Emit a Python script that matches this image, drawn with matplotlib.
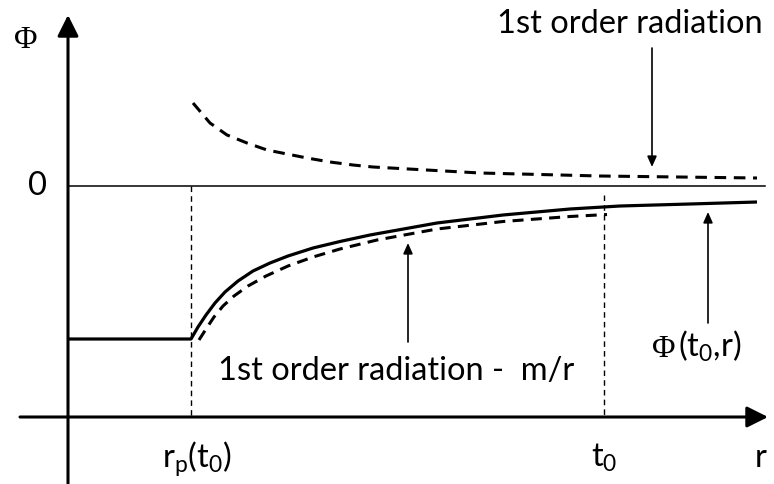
import matplotlib.pyplot as plt

plt.rcParams['font.family'] = ['Lato', 'DejaVu Sans']
plt.rcParams['mathtext.fontset'] = 'custom'
plt.rcParams['mathtext.rm'] = 'Lato'
plt.rcParams['mathtext.default'] = 'regular'

# -- Potential Phi(t0, r): flat inside r_p, then rising towards 0 --
r_solid = [0.0, 1.23, 1.30, 1.38, 1.47, 1.57, 1.70, 1.85, 2.02, 2.20, 2.45,
           2.72, 3.02, 3.69, 4.35, 5.02, 5.52, 6.22, 6.89]
phi_solid = [-1.53, -1.53, -1.41, -1.29, -1.17, -1.06, -0.95, -0.85, -0.77,
             -0.70, -0.62, -0.555, -0.49, -0.37, -0.29, -0.23, -0.20, -0.18, -0.16]

# -- 1st order radiation - m/r (below the solid curve, up to t0) --
r_low = [1.31, 1.38, 1.46, 1.55, 1.66, 1.80, 1.98, 2.20, 2.45, 2.72, 3.09,
         3.69, 4.35, 5.02, 5.39]
phi_low = [-1.54, -1.43, -1.31, -1.20, -1.10, -1.00, -0.90, -0.80, -0.71,
           -0.63, -0.54, -0.43, -0.355, -0.305, -0.285]

# -- 1st order radiation (above zero) --
r_up = [1.25, 1.42, 1.59, 1.79, 1.99, 2.19, 2.39, 2.62, 2.85, 3.05, 4.12, 5.32, 6.89]
phi_up = [0.83, 0.63, 0.51, 0.43, 0.36, 0.32, 0.28, 0.24, 0.21, 0.19, 0.13, 0.10, 0.08]

r_p = 1.23
t_0 = 5.36
r_axis = -2.31   # height of the r axis

fig = plt.figure(figsize=(7.74, 4.84), dpi=100)
ax = fig.add_axes([0, 0, 1, 1])
ax.set_xlim(-0.68, 7.06)
ax.set_ylim(-2.98, 1.86)
ax.axis('off')

# -- Axes with arrow heads --
big_head = dict(arrowstyle='-|>,head_length=0.4,head_width=0.2', mutation_scale=32,
                lw=2.2, color='black', shrinkA=0, shrinkB=0)
ax.annotate('', xy=(7.0, r_axis), xytext=(-0.48, r_axis), arrowprops=big_head)
ax.annotate('', xy=(0.0, 1.71), xytext=(0.0, -2.98), arrowprops=big_head)

# -- Zero line --
ax.plot([0.0, 6.97], [0.0, 0.0], color='black', lw=1.1)

# -- Dashed markers at r_p and t0 --
ax.plot([r_p, r_p], [0.0, r_axis], color='black', lw=1.0, ls=(0, (4, 3)))
ax.plot([t_0, t_0], [-0.09, r_axis], color='black', lw=1.0, ls=(0, (4, 3)))

# -- Curves --
ax.plot(r_solid, phi_solid, color='black', lw=2.3, solid_capstyle='butt',
        solid_joinstyle='round')
ax.plot(r_low, phi_low, color='black', lw=2.2, ls=(0, (3.6, 2.4)))
ax.plot(r_up, phi_up, color='black', lw=2.2, ls=(0, (3.8, 2.5)))

# -- Pointer arrows --
small_head = dict(arrowstyle='-|>,head_length=0.45,head_width=0.2', mutation_scale=14,
                  lw=1.2, color='black', shrinkA=0, shrinkB=0)
ax.annotate('', xy=(5.84, 0.19), xytext=(5.84, 1.38), arrowprops=small_head)
ax.annotate('', xy=(3.40, -0.57), xytext=(3.40, -1.56), arrowprops=small_head)
ax.annotate('', xy=(6.40, -0.26), xytext=(6.40, -1.37), arrowprops=small_head)

# -- Labels --
fs = 23.5
ax.text(5.62, 1.53, '1st order radiation', fontsize=fs, ha='center', va='baseline')
ax.text(3.28, -1.94, '1st order radiation -  m/r', fontsize=fs, ha='center', va='baseline')
ax.text(5.84, -1.71, '\u03a6', family='Liberation Serif', fontsize=23, ha='left', va='baseline')
ax.text(6.10, -1.71, '$(t_0{,}r)$', fontsize=fs, ha='left', va='baseline')
ax.text(1.29, -2.81, '$r_p(t_0)$', fontsize=fs, ha='center', va='baseline')
ax.text(5.36, -2.81, '$t_0$', fontsize=fs, ha='center', va='baseline')
ax.text(6.93, -2.81, 'r', fontsize=fs, ha='center', va='baseline')
ax.text(-0.42, 1.38, '\u03a6', family='Liberation Serif', fontsize=23, ha='center', va='baseline')
ax.text(-0.31, 0.0, '0', fontsize=fs, ha='center', va='center')

fig.savefig('out.png', dpi=100)
